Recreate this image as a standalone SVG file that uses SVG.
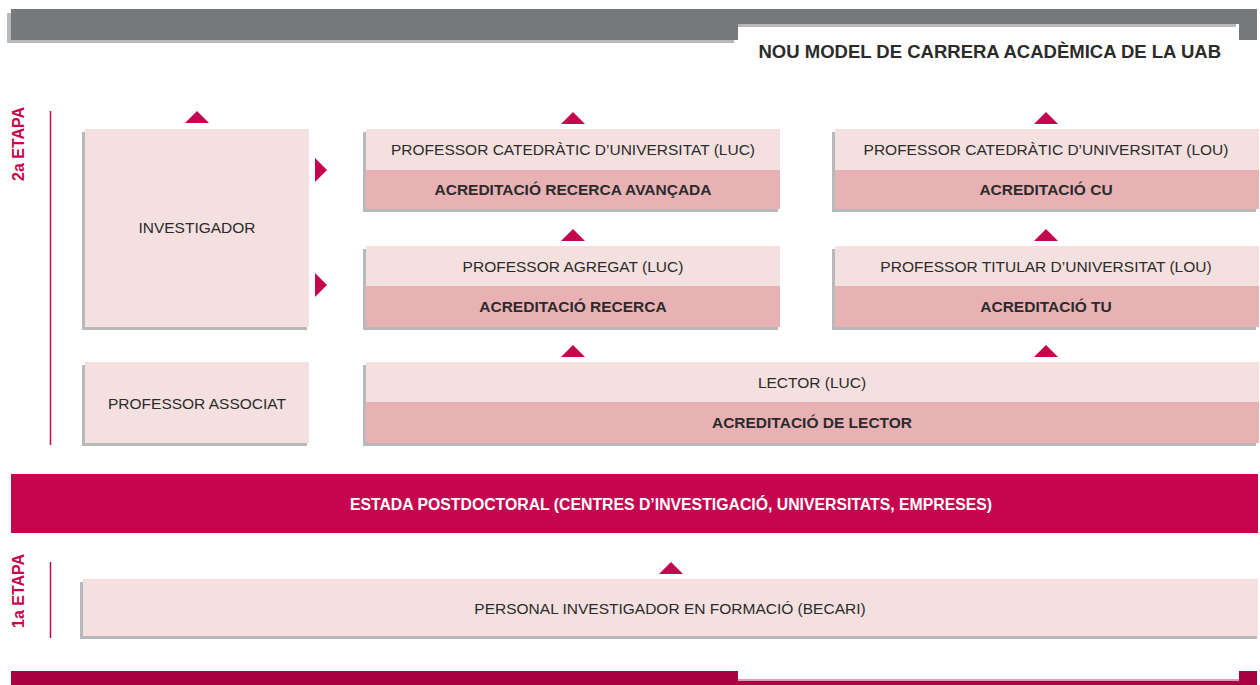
<svg xmlns="http://www.w3.org/2000/svg" width="1260" height="685" viewBox="0 0 1260 685">
<style>
.t{font-family:"Liberation Sans",Arial,sans-serif;font-size:15.5px;fill:#2b2b2b;text-anchor:middle}
.b{font-weight:bold}
.w{fill:#ffffff}
.lbl{font-family:"Liberation Sans",Arial,sans-serif;font-size:16px;font-weight:bold;fill:#c5064f}
.sh{fill:#b8b9bb}
.lt{fill:#f5e0e0}
.dk{fill:#e8b2b5}
.arr{fill:#c5064f}
</style>
<rect width="1260" height="685" fill="#ffffff"/>
<g id="header">
<path d="M7 13 H734 V43 H7 Z" fill="#b8b9bb"/>
<path d="M734 24 H1236 V27 H734 Z" fill="#b8b9bb"/>
<path d="M11 9 H1257 V40 H1239 V24 H738 V40 H11 Z" fill="#77787b"/>
<text class="t b" x="1221" y="58" style="text-anchor:end;font-size:18.5px">NOU MODEL DE CARRERA ACADÈMICA DE LA UAB</text>
</g>
<g id="footer">
<rect x="734" y="679" width="505" height="2" fill="#d9a0b4"/>
<path d="M11 671 H738 V681 H1239 V671 H1257 V685 H11 Z" fill="#a90042"/>
</g>
<g id="stage2">
<line x1="50.5" y1="111" x2="50.5" y2="445" stroke="#c5064f" stroke-width="1.5"/>
<text class="lbl" transform="translate(24,181) rotate(-90)">2a ETAPA</text>
</g>
<g id="stage1">
<line x1="50.5" y1="562" x2="50.5" y2="638" stroke="#c5064f" stroke-width="1.5"/>
<text class="lbl" transform="translate(24,628) rotate(-90)">1a ETAPA</text>
</g>
<g id="investigador">
<rect class="sh" x="82" y="132" width="225" height="198"/>
<rect class="lt" x="85" y="129" width="224" height="198"/>
<text class="t" x="197" y="233">INVESTIGADOR</text>
</g>
<g id="associat">
<rect class="sh" x="82" y="365" width="225" height="81"/>
<rect class="lt" x="85" y="362" width="224" height="81"/>
<text class="t" x="197" y="409">PROFESSOR ASSOCIAT</text>
</g>
<g id="cat-luc">
<rect class="sh" x="363" y="132" width="415" height="80"/>
<rect class="lt" x="366" y="129" width="414" height="41"/>
<rect class="dk" x="366" y="170" width="414" height="39"/>
<text class="t" x="573" y="155">PROFESSOR CATEDRÀTIC D’UNIVERSITAT (LUC)</text>
<text class="t b" x="573" y="195">ACREDITACIÓ RECERCA AVANÇADA</text>
</g>
<g id="agregat-luc">
<rect class="sh" x="363" y="249" width="415" height="81"/>
<rect class="lt" x="366" y="246" width="414" height="40"/>
<rect class="dk" x="366" y="286" width="414" height="41"/>
<text class="t" x="573" y="272">PROFESSOR AGREGAT (LUC)</text>
<text class="t b" x="573" y="312">ACREDITACIÓ RECERCA</text>
</g>
<g id="cat-lou">
<rect class="sh" x="832" y="132" width="424" height="80"/>
<rect class="lt" x="835" y="129" width="424" height="41"/>
<rect class="dk" x="835" y="170" width="424" height="39"/>
<text class="t" x="1046" y="155">PROFESSOR CATEDRÀTIC D’UNIVERSITAT (LOU)</text>
<text class="t b" x="1046" y="195">ACREDITACIÓ CU</text>
</g>
<g id="titular-lou">
<rect class="sh" x="832" y="249" width="424" height="81"/>
<rect class="lt" x="835" y="246" width="424" height="40"/>
<rect class="dk" x="835" y="286" width="424" height="41"/>
<text class="t" x="1046" y="272">PROFESSOR TITULAR D’UNIVERSITAT (LOU)</text>
<text class="t b" x="1046" y="312">ACREDITACIÓ TU</text>
</g>
<g id="lector">
<rect class="sh" x="363" y="365" width="893" height="81"/>
<rect class="lt" x="366" y="362" width="893" height="40"/>
<rect class="dk" x="366" y="402" width="893" height="41"/>
<text class="t" x="812" y="388">LECTOR (LUC)</text>
<text class="t b" x="812" y="428">ACREDITACIÓ DE LECTOR</text>
</g>
<g id="postdoc">
<rect x="11" y="474" width="1247" height="59" fill="#c5064f"/>
<text class="t b w" x="671" y="510" style="font-size:15.8px">ESTADA POSTDOCTORAL (CENTRES D’INVESTIGACIÓ, UNIVERSITATS, EMPRESES)</text>
</g>
<g id="becari">
<rect class="sh" x="80" y="582" width="1177" height="57"/>
<rect class="lt" x="83" y="579" width="1175" height="57"/>
<text class="t" x="670" y="614">PERSONAL INVESTIGADOR EN FORMACIÓ (BECARI)</text>
</g>
<g id="connectors">
<polygon class="arr" points="185,123 209,123 197,111"/>
<polygon class="arr" points="561,124 585,124 573,112"/>
<polygon class="arr" points="561,241 585,241 573,229"/>
<polygon class="arr" points="561,357 585,357 573,345"/>
<polygon class="arr" points="1034,124 1058,124 1046,112"/>
<polygon class="arr" points="1034,241 1058,241 1046,229"/>
<polygon class="arr" points="1034,357 1058,357 1046,345"/>
<polygon class="arr" points="659,574 683,574 671,562"/>
<polygon class="arr" points="315,158 315,182 327,170"/>
<polygon class="arr" points="315,273 315,297 327,285"/>
</g>
</svg>
